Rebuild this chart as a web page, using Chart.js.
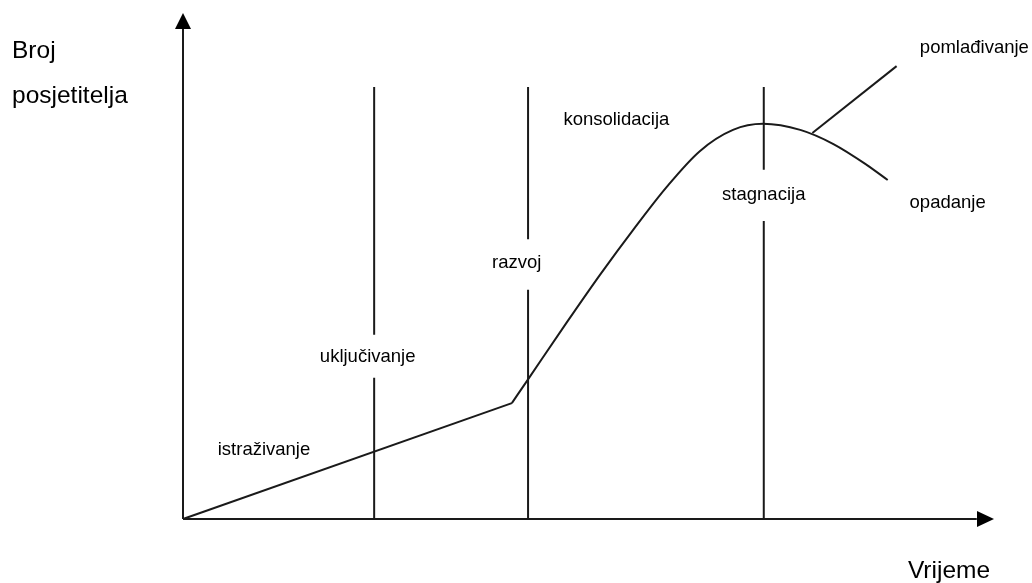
<!DOCTYPE html>
<html>
<head>
<meta charset="utf-8">
<script src="https://cdn.jsdelivr.net/npm/chart.js@4"></script>
<style>
  html, body { margin: 0; padding: 0; background: #fff; }
  #wrap { width: 1032px; height: 583px; position: relative; }
</style>
</head>
<body>
<div id="wrap"><canvas id="talc"></canvas></div>
<script>
// early phase: straight rise
const earlyX = [0, 40.6];
const earlyY = [0, 22.9];
// main curve
const curveX = [40.6, 42.6, 47.4, 51.5, 55.6, 59.7, 63.8, 67.9, 71.6, 76.2, 80.3, 84.4, 87.0];
const curveY = [22.9, 27.6, 38.9, 48.3, 57.2, 65.6, 72.7, 76.9, 78.1, 76.9, 74.1, 70.0, 67.0];
// rejuvenation branch
const branchX = [77.7, 88.1];
const branchY = [76.3, 89.5];
// phase boundary lines
const phaseX = [23.6, 42.6, 71.7];
const phaseTop = 85.4;
const gapTop = [36.4, 55.3, 69.0];
const gapBottom = [27.9, 45.3, 58.9];
// phase labels
const phaseNames = ['istraživanje', 'uključivanje', 'razvoj', 'konsolidacija', 'stagnacija', 'pomlađivanje', 'opadanje'];
const nameX = [10.0, 22.8, 41.2, 53.5, 71.7, 97.7, 94.4];
const nameY = [13.6, 32.0, 50.6, 78.9, 64.0, 93.1, 62.5];

const ink = '#1a1a1a';

function pts(xs, ys) {
    return xs.map((x, i) => ({ x: x, y: ys[i] }));
}

function lineSet(data, smooth) {
    const ds = {
        data: data,
        showLine: true,
        borderColor: ink,
        borderWidth: 2,
        pointRadius: 0,
        tension: 0,
        clip: false
    };
    if (smooth) ds.cubicInterpolationMode = 'monotone';
    return ds;
}

const datasets = [
    lineSet([{ x: 0, y: 0 }, { x: 98, y: 0 }]),
    lineSet([{ x: 0, y: 0 }, { x: 0, y: 97 }]),
    lineSet(pts(earlyX, earlyY)),
    lineSet(pts(curveX, curveY), true),
    lineSet(pts(branchX, branchY))
];
phaseX.forEach((x, i) => {
    datasets.push(lineSet([{ x: x, y: phaseTop }, { x: x, y: gapTop[i] }]));
    datasets.push(lineSet([{ x: x, y: gapBottom[i] }, { x: x, y: 0 }]));
});

const decor = {
    id: 'decor',
    afterDatasetsDraw(chart) {
        const ctx = chart.ctx;
        const sx = chart.scales.x, sy = chart.scales.y;
        const ox = sx.getPixelForValue(0), oy = sy.getPixelForValue(0);
        ctx.save();
        ctx.fillStyle = '#000';
        // arrow heads
        ctx.beginPath();
        ctx.moveTo(ox, 13);
        ctx.lineTo(ox - 8, 29);
        ctx.lineTo(ox + 8, 29);
        ctx.closePath();
        ctx.fill();
        ctx.beginPath();
        ctx.moveTo(994, oy);
        ctx.lineTo(977, oy - 8);
        ctx.lineTo(977, oy + 8);
        ctx.closePath();
        ctx.fill();
        // phase labels
        ctx.font = '18.5px "Liberation Sans", Arial, sans-serif';
        ctx.textAlign = 'center';
        ctx.textBaseline = 'middle';
        phaseNames.forEach((t, i) => {
            ctx.fillText(t, sx.getPixelForValue(nameX[i]), sy.getPixelForValue(nameY[i]));
        });
        // axis titles
        ctx.font = '24.5px "Liberation Sans", Arial, sans-serif';
        ctx.textAlign = 'left';
        ctx.fillText('Broj', 12, 51);
        ctx.fillText('posjetitelja', 12, 96);
        ctx.textAlign = 'center';
        ctx.fillText('Vrijeme', 949, 571);
        ctx.restore();
    }
};

new Chart(document.getElementById('talc'), {
    type: 'scatter',
    data: { datasets: datasets },
    options: {
        responsive: true,
        maintainAspectRatio: false,
        animation: false,
        layout: { padding: { left: 183, right: 39, top: 13, bottom: 64 } },
        scales: {
            x: { type: 'linear', min: 0, max: 100, display: false },
            y: { type: 'linear', min: 0, max: 100, display: false }
        },
        plugins: {
            legend: { display: false },
            tooltip: { enabled: false }
        }
    },
    plugins: [decor]
});
</script>
</body>
</html>
